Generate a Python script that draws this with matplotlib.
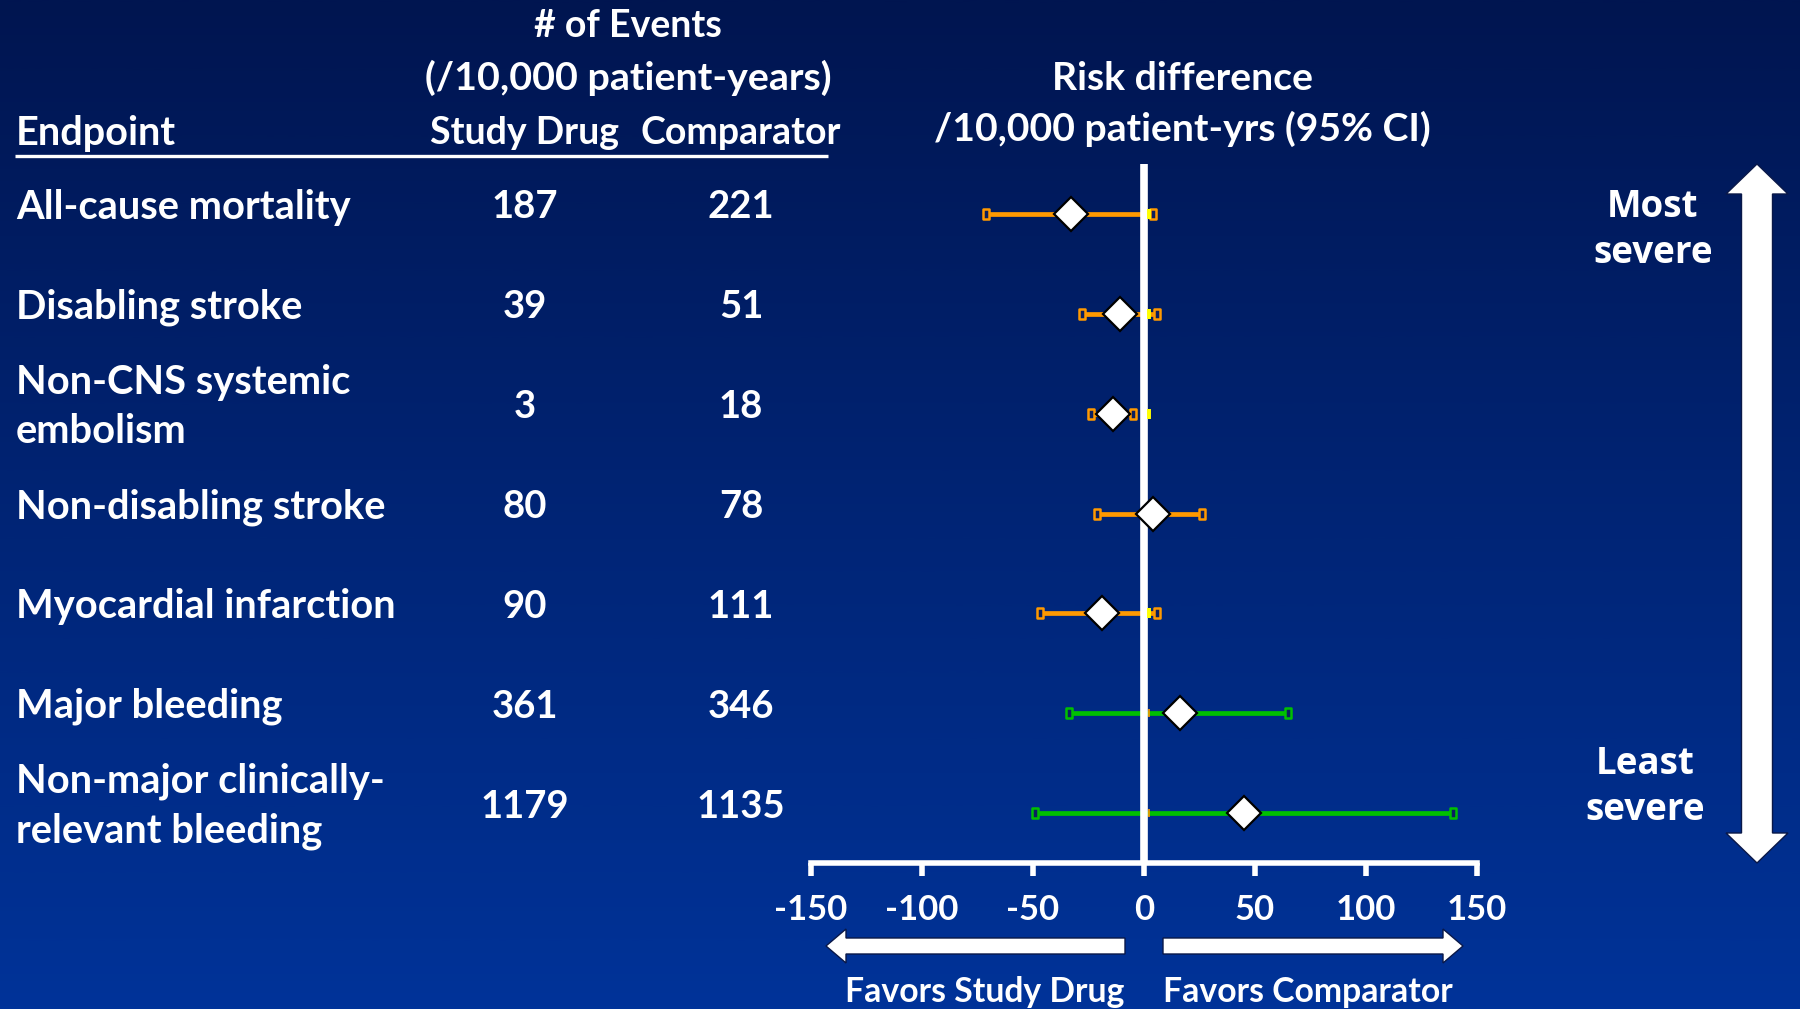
import numpy as np
import matplotlib
matplotlib.use("Agg")
import matplotlib.pyplot as plt
from matplotlib.colors import LinearSegmentedColormap
from matplotlib.patches import Polygon
from matplotlib.path import Path
from matplotlib import transforms

# ---------------- data ----------------
endpoints = ["All-cause mortality", "Disabling stroke", "Non-CNS systemic\nembolism",
             "Non-disabling stroke", "Myocardial infarction", "Major bleeding",
             "Non-major clinically-\nrelevant bleeding"]
study_drug = [187, 39, 3, 80, 90, 361, 1179]
comparator = [221, 51, 18, 78, 111, 346, 1135]
risk_diff = [-33, -11, -14, 4, -19, 16, 45]
ci_low = [-71, -28, -24, -21, -47, -34, -49]
ci_high = [4, 6, -5, 26, 6, 65, 139]
ci_colors = ["#FF9900", "#FF9900", "#FF9900", "#FF9900", "#FF9900", "#00C000", "#00C000"]
xticks = [-150, -100, -50, 0, 50, 100, 150]
xtick_labels = ["-150", "-100", "-50", "0", "50", "100", "150"]
# small leftover cap marks sitting at the zero line in the original
yellow_mark_rows = [0, 1, 2, 4]
orange_mark_rows = [5, 6]
zero_mark_x = 2.3

plt.rcParams["font.family"] = ["Lato", "DejaVu Sans"]
plt.rcParams["font.weight"] = "bold"

W, H = 1800, 1009
fig = plt.figure(figsize=(18, 10.09), dpi=100)

# background gradient axes in pixel coordinates
ax_bg = fig.add_axes([0, 0, 1, 1])
grad = np.linspace(0, 1, 512).reshape(-1, 1)
cmap = LinearSegmentedColormap.from_list("bg", ["#001550", "#003399"])
ax_bg.imshow(grad, cmap=cmap, aspect="auto", extent=[0, W, H, 0], zorder=0)
ax_bg.set_xlim(0, W)
ax_bg.set_ylim(H, 0)
ax_bg.axis("off")

# forest axes
x0, x1 = 811, 1477
ytop, ybot = 164, 863
n = len(endpoints)
ax = fig.add_axes([x0 / W, 1 - ybot / H, (x1 - x0) / W, (ybot - ytop) / H])
ax.set_xlim(xticks[0], xticks[-1])
ax.set_ylim(n - 0.5, -0.5)
ax.patch.set_alpha(0)
for s in ["top", "left", "right"]:
    ax.spines[s].set_visible(False)
ax.spines["bottom"].set_color("white")
ax.spines["bottom"].set_linewidth(4)
ax.set_yticks([])
ax.set_xticks(xticks)
ax.set_xticklabels(xtick_labels)
ax.tick_params(axis="x", colors="white", length=9, width=4, pad=13, labelsize=25)

ax.axvline(0, color="white", lw=5.5, solid_capstyle="round", zorder=3)

rows = np.arange(n)
cap_marker = Path([(-0.3, -0.5), (0.3, -0.5), (0.3, 0.5), (-0.3, 0.5), (-0.3, -0.5)],
                  [Path.MOVETO, Path.LINETO, Path.LINETO, Path.LINETO, Path.CLOSEPOLY])
for i in rows:
    ax.plot([ci_low[i], ci_high[i]], [i, i], color=ci_colors[i], lw=3.4,
            solid_capstyle="butt", zorder=2)
    ax.plot([ci_low[i], ci_high[i]], [i, i], ls="none", marker=cap_marker, ms=7.5,
            mfc="#0b2060", mec=ci_colors[i], mew=1.8, zorder=2.5)
ax.plot([zero_mark_x] * len(yellow_mark_rows), yellow_mark_rows, ls="none", marker="|",
        ms=7.5, mew=2.8, color="#FFFF00", zorder=3.5)
ax.plot([zero_mark_x] * len(orange_mark_rows), orange_mark_rows, ls="none", marker="|",
        ms=6, mew=1.2, color="#FF9900", zorder=3.5)
ax.plot(risk_diff, rows, ls="none", marker="D", ms=17, mfc="white", mec="black",
        mew=1.6, zorder=5)

# ---------------- texts ----------------
tc = "white"
fs_row = 28.7
fs_hdr = 27
ax_bg.text(628, 26, "# of Events", color=tc, fontsize=fs_hdr, ha="center", va="center")
ax_bg.text(628, 78, "(/10,000 patient-years)", color=tc, fontsize=28.4, ha="center", va="center")
ax_bg.text(16, 133, "Endpoint", color=tc, fontsize=28.5, ha="left", va="center")
ax_bg.text(525, 133, "Study Drug", color=tc, fontsize=fs_hdr, ha="center", va="center")
ax_bg.text(741, 133, "Comparator", color=tc, fontsize=fs_hdr, ha="center", va="center")
ax_bg.plot([15, 828], [156, 156], color="white", lw=2.4, solid_capstyle="butt")
ax_bg.text(1182, 78, "Risk difference", color=tc, fontsize=28.2, ha="center", va="center")
ax_bg.text(1182, 129, "/10,000 patient-yrs (95% CI)", color=tc, fontsize=28.2, ha="center", va="center")

blend = transforms.blended_transform_factory(ax_bg.transData, ax.transData)
for i in rows:
    ax_bg.text(16, i - 0.065, endpoints[i], transform=blend, color=tc, fontsize=fs_row,
               ha="left", va="center", linespacing=1.42)
    ax_bg.text(525, i - 0.065, str(study_drug[i]), transform=blend, color=tc, fontsize=27.5,
               ha="center", va="center")
    ax_bg.text(741, i - 0.065, str(comparator[i]), transform=blend, color=tc, fontsize=27.5,
               ha="center", va="center")

ax_bg.text(1653, 230, "Most\nsevere", color=tc, fontsize=26.5, ha="center", va="center",
           family=["Open Sans", "DejaVu Sans"], linespacing=1.3)
ax_bg.text(1645, 787, "Least\nsevere", color=tc, fontsize=26.5, ha="center", va="center",
           family=["Open Sans", "DejaVu Sans"], linespacing=1.3)

ax_bg.text(985, 992, "Favors Study Drug", color=tc, fontsize=24.3, ha="center", va="center")
ax_bg.text(1308, 992, "Favors Comparator", color=tc, fontsize=24.3, ha="center", va="center")

# ---------------- arrows ----------------
def v_double_arrow(xc, yt, yb, sw, hw, hl):
    return [(xc, yt), (xc + hw / 2, yt + hl), (xc + sw / 2, yt + hl), (xc + sw / 2, yb - hl),
            (xc + hw / 2, yb - hl), (xc, yb), (xc - hw / 2, yb - hl), (xc - sw / 2, yb - hl),
            (xc - sw / 2, yt + hl), (xc - hw / 2, yt + hl)]

def h_arrow(x_tail, x_tip, yc, sw, hw, hl):
    d = 1 if x_tip > x_tail else -1
    xb = x_tip - d * hl
    return [(x_tail, yc - sw / 2), (xb, yc - sw / 2), (xb, yc - hw / 2), (x_tip, yc),
            (xb, yc + hw / 2), (xb, yc + sw / 2), (x_tail, yc + sw / 2)]

edge = "#0a1848"
ax_bg.add_patch(Polygon(v_double_arrow(1757, 164, 863, 31, 62, 30), closed=True,
                        facecolor="white", edgecolor=edge, lw=1, zorder=5))
ax_bg.add_patch(Polygon(h_arrow(1125, 826, 946, 16, 34, 20), closed=True,
                        facecolor="white", edgecolor=edge, lw=1, zorder=5))
ax_bg.add_patch(Polygon(h_arrow(1163, 1463, 946, 16, 34, 20), closed=True,
                        facecolor="white", edgecolor=edge, lw=1, zorder=5))

fig.savefig("out.png", dpi=100)
